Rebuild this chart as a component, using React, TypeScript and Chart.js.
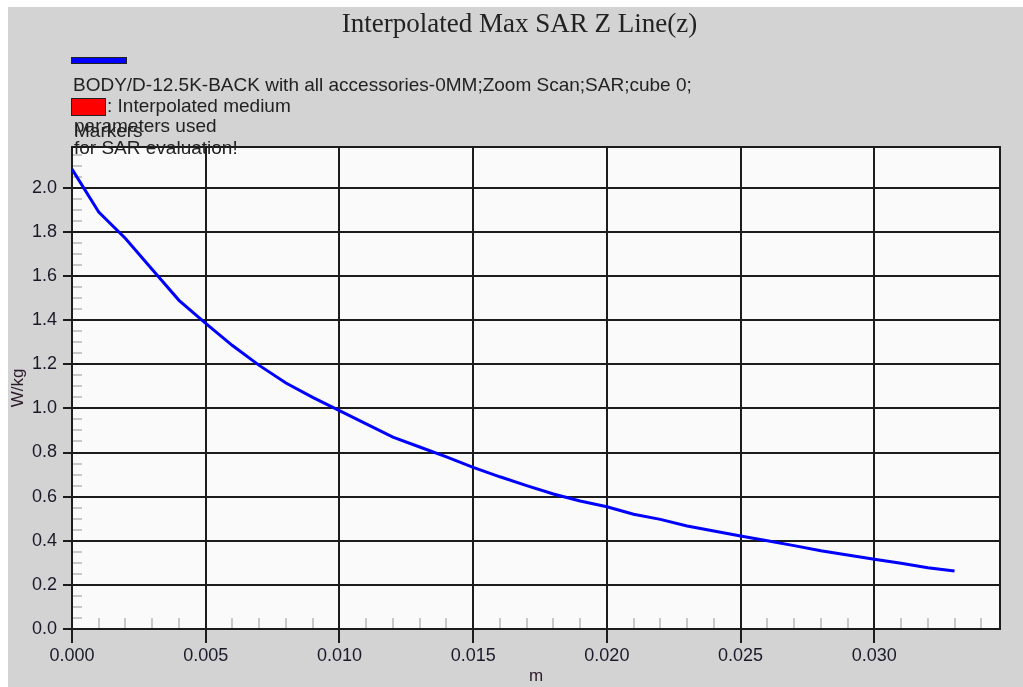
import React, { useEffect, useRef } from "react";
import { Chart, registerables } from "chart.js";

Chart.register(...registerables);

// ---- data ----
const depthM = [
  0, 0.001, 0.002, 0.003, 0.004, 0.005, 0.006, 0.007, 0.008, 0.009, 0.01, 0.011,
  0.012, 0.013, 0.014, 0.015, 0.016, 0.017, 0.018, 0.019, 0.02, 0.021, 0.022,
  0.023, 0.024, 0.025, 0.026, 0.027, 0.028, 0.029, 0.03, 0.031, 0.032, 0.033,
];
const sarWkg = [
  2.085, 1.89, 1.77, 1.63, 1.49, 1.385, 1.285, 1.195, 1.115, 1.05, 0.99, 0.93,
  0.87, 0.825, 0.78, 0.733, 0.69, 0.65, 0.612, 0.58, 0.554, 0.52, 0.497,
  0.467, 0.444, 0.422, 0.4, 0.378, 0.355, 0.335, 0.316, 0.298, 0.278, 0.263,
];
const xMax = 0.0347;
const yMax = 2.185;
const xMajorStep = 0.005;
const xMinorStep = 0.001;
const yMajorStep = 0.2;
const yMinorStep = 0.05;

const titleText = "Interpolated Max SAR Z Line(z)";
const seriesLabel = "BODY/D-12.5K-BACK with all accessories-0MM;Zoom Scan;SAR;cube 0;";
const noteLine1 = ": Interpolated medium";
const noteLine2 = "parameters used";
const noteLine3 = "for SAR evaluation!";
const markersLabel = "Markers";
const xTitle = "m";
const yTitle = "W/kg";

const SANS = "'Liberation Sans', Arial, sans-serif";
const SERIF = "'Liberation Serif', 'Times New Roman', serif";
const DARK = "#1c1c1c";

const decorPlugin = {
  id: "decor",
  beforeDraw(chart: any) {
    const { ctx, chartArea: a, width, height } = chart;
    ctx.save();
    ctx.fillStyle = "#d3d3d3";
    ctx.fillRect(0, 0, width, height);
    ctx.fillStyle = "#fafafa";
    ctx.fillRect(a.left, a.top, a.right - a.left, a.bottom - a.top);
    ctx.restore();
  },
  beforeDatasetsDraw(chart: any) {
    const { ctx, chartArea: a } = chart;
    const xs = chart.scales.x;
    const ys = chart.scales.y;
    ctx.save();
    ctx.strokeStyle = "#c8c8c8";
    ctx.lineWidth = 2;
    ctx.beginPath();
    const nx = Math.floor(xMax / xMinorStep + 1e-9);
    for (let i = 1; i <= nx; i++) {
      if (i % Math.round(xMajorStep / xMinorStep) === 0) continue;
      const px = Math.round(xs.getPixelForValue(i * xMinorStep));
      ctx.moveTo(px, a.bottom);
      ctx.lineTo(px, a.bottom - 11);
    }
    const ny = Math.floor(yMax / yMinorStep + 1e-9);
    for (let i = 1; i <= ny; i++) {
      if (i % Math.round(yMajorStep / yMinorStep) === 0) continue;
      const py = Math.round(ys.getPixelForValue(i * yMinorStep));
      ctx.moveTo(a.left, py);
      ctx.lineTo(a.left + 10, py);
    }
    ctx.stroke();
    // plot frame
    ctx.strokeStyle = DARK;
    ctx.lineWidth = 2;
    ctx.strokeRect(a.left, a.top, a.right - a.left, a.bottom - a.top);
    ctx.restore();
  },
  afterDraw(chart: any) {
    const { ctx, width } = chart;
    ctx.save();
    // title
    ctx.fillStyle = "#222";
    ctx.font = `27px ${SERIF}`;
    ctx.textAlign = "center";
    ctx.textBaseline = "alphabetic";
    ctx.fillText(titleText, width / 2 + 4, 25);
    // legend: series swatch
    ctx.textAlign = "left";
    ctx.fillStyle = "#0000ff";
    ctx.fillRect(63, 50, 56, 7);
    ctx.strokeStyle = "#222";
    ctx.lineWidth = 1;
    ctx.strokeRect(63.5, 50.5, 55, 6);
    ctx.fillStyle = "#222";
    ctx.font = `19px ${SANS}`;
    ctx.fillText(seriesLabel, 65, 84);
    // interpolated medium swatch
    ctx.fillStyle = "#ff0000";
    ctx.fillRect(63, 91, 35, 18);
    ctx.strokeStyle = "#222";
    ctx.strokeRect(63.5, 91.5, 34, 17);
    ctx.fillStyle = "#222";
    ctx.fillText(noteLine1, 99, 105);
    ctx.fillText(noteLine2, 66, 125);
    ctx.fillText(markersLabel, 66, 130);
    ctx.fillText(noteLine3, 66, 147);
    ctx.restore();
  },
};

export default function App() {
  const ref = useRef<HTMLCanvasElement | null>(null);
  useEffect(() => {
    if (!ref.current) return;
    const points = depthM.map((x, i) => ({ x, y: sarWkg[i] }));
    const chart = new Chart(ref.current, {
      type: "line",
      data: {
        datasets: [
          {
            label: seriesLabel,
            data: points,
            borderColor: "#0000ff",
            borderWidth: 3,
            pointRadius: 0,
            tension: 0,
            fill: false,
          },
        ],
      },
      options: {
        animation: false,
        responsive: false,
        layout: { padding: { top: 140, right: 23, left: 0, bottom: 0 } },
        plugins: {
          legend: { display: false },
          title: { display: false },
          tooltip: { enabled: false },
        },
        scales: {
          x: {
            type: "linear",
            min: 0,
            max: xMax,
            afterFit: (s: any) => {
              s.height = 58;
            },
            ticks: {
              stepSize: xMajorStep,
              includeBounds: false,
              autoSkip: false,
              maxRotation: 0,
              padding: 2,
              color: "#1a1a2a",
              font: { family: SANS, size: 18 },
              callback: (v: any) => Number(v).toFixed(3),
            },
            grid: { color: DARK, lineWidth: 2, tickLength: 14, drawTicks: true },
            border: { display: true, color: DARK, width: 2 },
            title: {
              display: true,
              text: xTitle,
              color: "#2a1a2a",
              font: { family: SANS, size: 17 },
              padding: { top: 0, bottom: 0 },
            },
          },
          y: {
            type: "linear",
            min: 0,
            max: yMax,
            afterFit: (s: any) => {
              s.width = 64;
            },
            ticks: {
              stepSize: yMajorStep,
              includeBounds: false,
              autoSkip: false,
              padding: 6,
              color: "#1a1a2a",
              font: { family: SANS, size: 18 },
              callback: (v: any) => Number(v).toFixed(1),
            },
            grid: { color: DARK, lineWidth: 2, tickLength: 9, drawTicks: true },
            border: { display: true, color: DARK, width: 2 },
            title: {
              display: true,
              text: yTitle,
              color: "#2a1a2a",
              font: { family: SANS, size: 17 },
              padding: { top: 0, bottom: 0 },
            },
          },
        },
      },
      plugins: [decorPlugin],
    });
    return () => chart.destroy();
  }, []);

  return (
    <div
      style={{
        position: "fixed",
        left: 8,
        top: 7,
        width: 1015,
        height: 680,
        background: "#d3d3d3",
      }}
    >
      <canvas ref={ref} width={1015} height={680} style={{ display: "block" }} />
    </div>
  );
}
